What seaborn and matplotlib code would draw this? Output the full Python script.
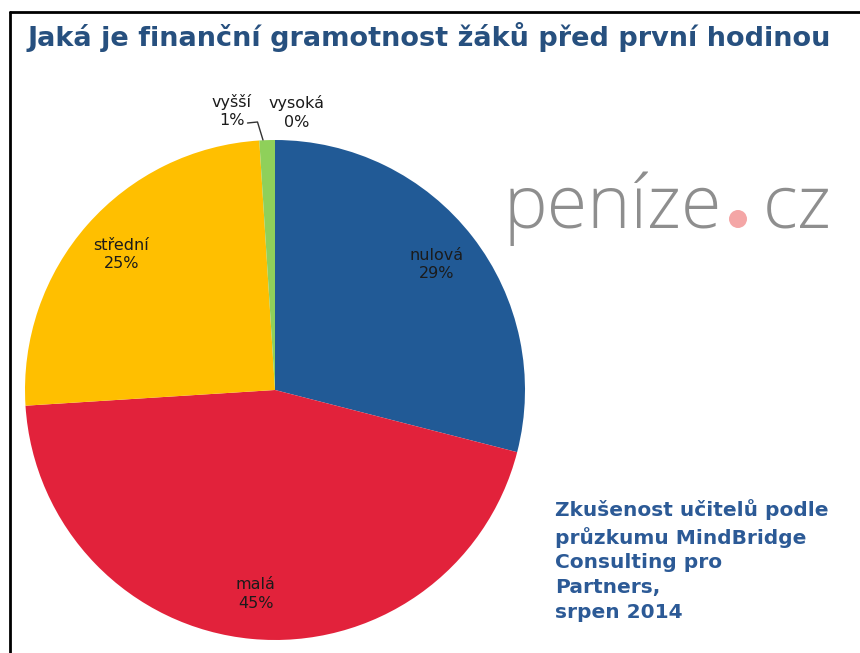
import matplotlib
matplotlib.use("Agg")
import matplotlib.pyplot as plt
import seaborn as sns
import numpy as np
from matplotlib.lines import Line2D
from matplotlib.patches import Ellipse

sns.set_theme(style="white")
plt.rcParams['font.family'] = ['DejaVu Sans']

categories = ["nulová", "malá", "střední", "vyšší", "vysoká"]
values = [29, 45, 25, 1, 0]
pct_labels = ["29%", "45%", "25%", "1%", "0%"]
colors = ["#215A96", "#E2223B", "#FFBF00", "#8FD05A", "#215A96"]

title = "Jaká je finanční gramotnost žáků před první hodinou"
note = "Zkušenost učitelů podle\nprůzkumu MindBridge\nConsulting pro\nPartners,\nsrpen 2014"

W, H = 860, 653
fig = plt.figure(figsize=(W / 100, H / 100), dpi=100)
fig.patch.set_facecolor("white")

# pie axes: centre (275, 390) px, radius 250 px
cx, cy, r = 275, 390, 250
ax = fig.add_axes([(cx - r) / W, (H - cy - r) / H, 2 * r / W, 2 * r / H])
wedges, _ = ax.pie(values, colors=colors, startangle=90, counterclock=False,
                   radius=1.0, wedgeprops=dict(linewidth=0))
ax.set_xlim(-1, 1)
ax.set_ylim(-1, 1)
ax.set_aspect("auto")
ax.axis("off")

txt_color = "#1b1b1b"
lab_fs = 11.5
lab_ls = 1.3
for i, w in enumerate(wedges[:3]):
    ang = np.deg2rad((w.theta1 + w.theta2) / 2)
    d = 0.82
    ax.text(d * np.cos(ang), d * np.sin(ang), f"{categories[i]}\n{pct_labels[i]}",
            ha="center", va="center", fontsize=lab_fs, color=txt_color, linespacing=lab_ls)

# small slices labelled outside
ax.text(-0.172, 1.116, f"{categories[3]}\n{pct_labels[3]}", ha="center", va="center",
        fontsize=lab_fs, color=txt_color, linespacing=lab_ls)
ax.text(0.088, 1.11, f"{categories[4]}\n{pct_labels[4]}", ha="center", va="center",
        fontsize=lab_fs, color=txt_color, linespacing=lab_ls)
ax.add_line(Line2D([-0.11, -0.07, -0.048], [1.068, 1.072, 1.0],
                   color="#333333", lw=1.0, clip_on=False))

# title
fig.text(28 / W, 1 - 45.5 / H, title, ha="left", va="baseline", fontsize=19.5,
         fontweight="bold", color="#27507F")

# logo
logo_font = ["Open Sans", "DejaVu Sans"]
fig.text(503 / W, 1 - 228 / H, "peníze", ha="left", va="baseline", fontsize=53,
         color="#8E8E8E", family=logo_font, fontweight="light")
fig.text(763 / W, 1 - 228 / H, "cz", ha="left", va="baseline", fontsize=53,
         color="#8E8E8E", family=logo_font, fontweight="light")
fig.patches.append(Ellipse((738 / W, 1 - 219 / H), 18 / W, 18 / H,
                   transform=fig.transFigure, facecolor="#F4A6A6", edgecolor="none"))

# note
fig.text(555 / W, 1 - 560.5 / H, note, ha="left", va="center", fontsize=14.5,
         fontweight="bold", color="#2C5A96", linespacing=1.38)

# frame lines (top and left)
fig.add_artist(Line2D([10 / W, 1], [1 - 12 / H, 1 - 12 / H], color="black", lw=2,
                      transform=fig.transFigure))
fig.add_artist(Line2D([10 / W, 10 / W], [0, 1 - 12 / H], color="black", lw=2,
                      transform=fig.transFigure))

fig.savefig("out.png", dpi=100, facecolor="white")
